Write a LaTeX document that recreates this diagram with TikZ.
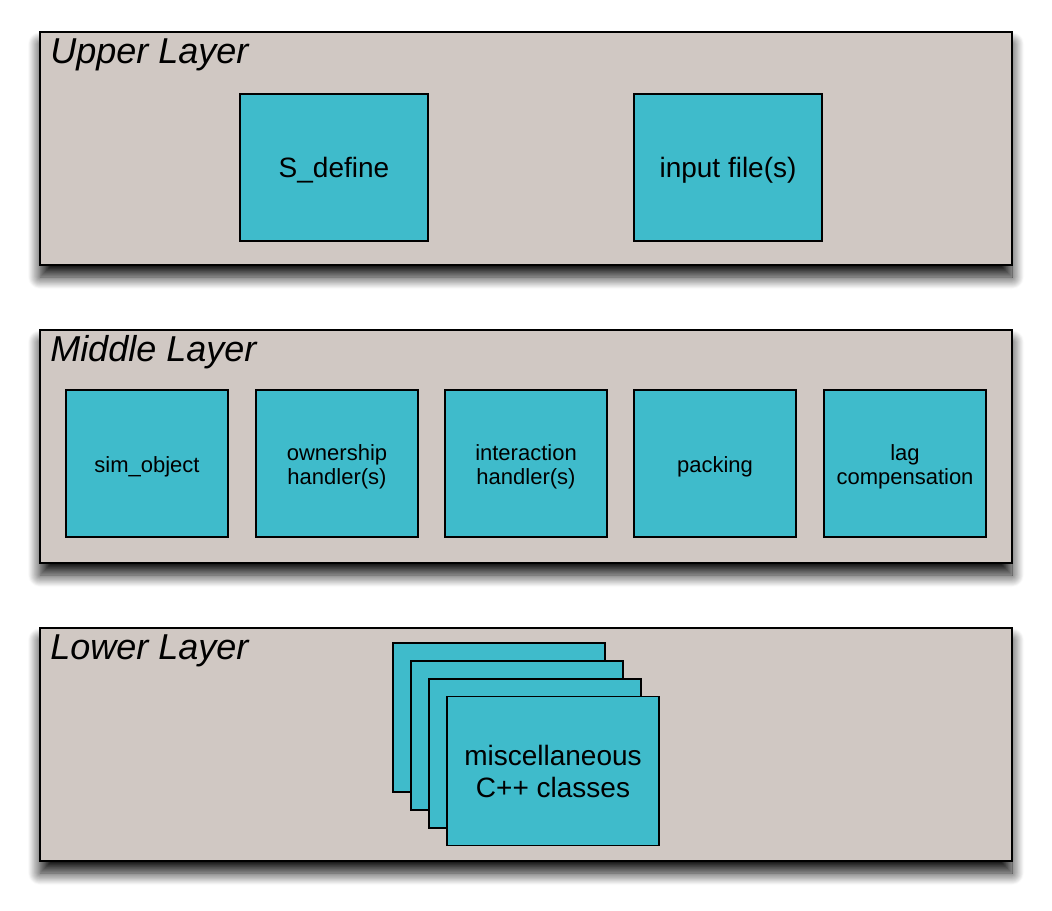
\documentclass[tikz,border=0pt]{standalone}
\usepackage{fontspec}
\setmainfont{Liberation Sans}
\usetikzlibrary{shadows.blur}
\definecolor{layergray}{HTML}{D0C8C3}
\definecolor{boxcyan}{HTML}{3FBBCB}
\newcommand{\boxtext}[2]{\raisebox{#1}[0pt][0pt]{\begin{tabular}[t]{@{}c@{}}#2\end{tabular}}}
\tikzset{
  layer/.style={draw, line width=1.3pt, fill=layergray, minimum width=729pt,
    minimum height=174.75pt, inner sep=0pt,
    blur shadow={shadow xshift=0pt, shadow yshift=-9pt, shadow blur radius=9pt,
      shadow blur steps=14, shadow opacity=95}},
  layername/.style={anchor=base west, inner sep=0pt, font=\fontsize{27}{30}\selectfont\itshape},
  bigbox/.style={draw, line width=1.1pt, fill=boxcyan, minimum width=141pt,
    minimum height=110.25pt, inner sep=0pt, font=\fontsize{21}{24}\selectfont},
  smallbox/.style={draw, line width=1.1pt, fill=boxcyan, minimum width=121.5pt,
    minimum height=110.25pt, inner sep=0pt, font=\fontsize{16.5}{18}\selectfont},
  stackbox/.style={draw, line width=1.1pt, fill=boxcyan, minimum width=159pt,
    minimum height=111.75pt, inner sep=0pt, font=\fontsize{21}{23.8}\selectfont}
}
\begin{document}
\begin{tikzpicture}[x=0.75pt,y=-0.75pt]
  \useasboundingbox (0,0) rectangle (1052,910);
  % layers
  \node[layer] (upper) at (526,148.5) {};
  \node[layer] (middle) at (526,446.5) {};
  \node[layer] (lower) at (526,744.5) {};
  \node[layername] (uppername) at (50,63) {Upper Layer};
  \node[layername] (middlename) at (50,361) {Middle Layer};
  \node[layername] (lowername) at (50,659) {Lower Layer};
  % upper layer
  \node[bigbox] (sdefine) at (334,167.5) {\boxtext{-7.8pt}{S\_define}};
  \node[bigbox] (input) at (728,167.5) {\boxtext{-7.8pt}{input file(s)}};
  % middle layer
  \node[smallbox] (simobject) at (147,463.5) {\boxtext{-6.6pt}{sim\_object}};
  \node[smallbox] (ownership) at (337,463.5) {\boxtext{2.4pt}{ownership\\handler(s)}};
  \node[smallbox] (interaction) at (526,463.5) {\boxtext{2.4pt}{interaction\\handler(s)}};
  \node[smallbox] (packing) at (715,463.5) {\boxtext{-6.6pt}{packing}};
  \node[smallbox] (lag) at (905,463.5) {\boxtext{2.4pt}{lag\\compensation}};
  % lower layer
  \node[stackbox] (misc1) at (499,717.5) {};
  \node[stackbox] (misc2) at (517,735.5) {};
  \node[stackbox] (misc3) at (535,753.5) {};
  \node[stackbox] (misc4) at (553,771) {\boxtext{3.8pt}{miscellaneous\\C++ classes}};
\end{tikzpicture}
\end{document}
